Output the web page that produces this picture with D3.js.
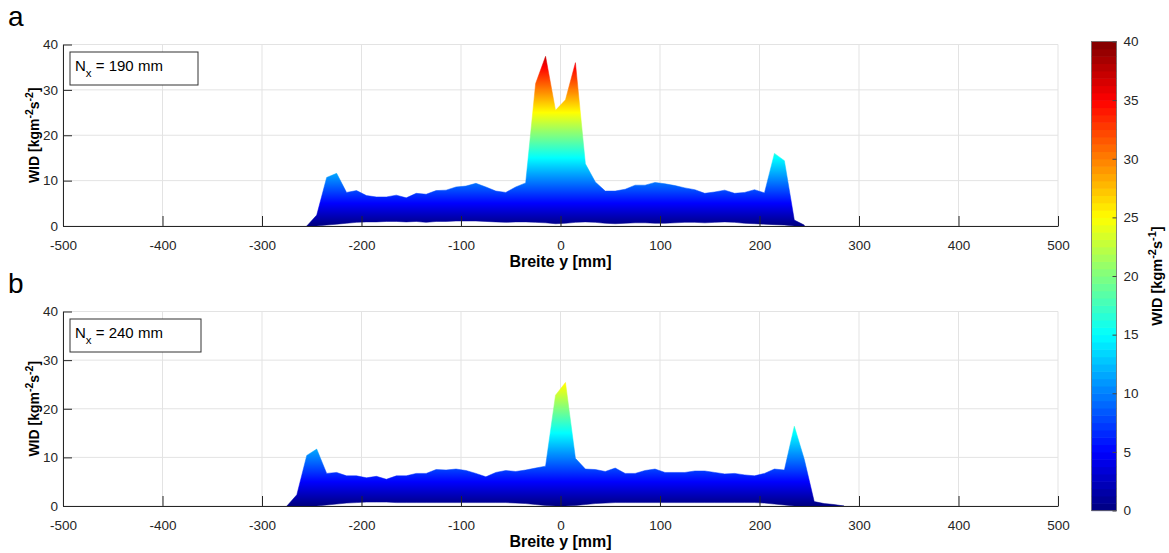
<!DOCTYPE html>
<html><head><meta charset="utf-8">
<script src="https://cdn.jsdelivr.net/npm/d3@7"></script>
<style>body{margin:0;background:#fff;} text{font-family:"Liberation Sans",Arial,sans-serif;}</style>
</head><body><svg id="c" width="1169" height="553"></svg>
<script>
// ---- data ----
const xTicks = [-500,-400,-300,-200,-100,0,100,200,300,400,500];
const yTicks = [0,10,20,30,40];
const cbTicks = [0,5,10,15,20,25,30,35,40];

const xA = [-255,-245,-235,-225,-215,-205,-195,-185,-175,-165,-155,-145,-135,-125,-115,-105,-95,-85,-75,-65,-55,-45,-35,-25,-15,-5,5,15,25,35,45,55,65,75,85,95,105,115,125,135,145,155,165,175,185,195,205,215,225,235,245];
const upperA = [0,2.4,10.7,11.6,7.4,7.8,6.7,6.4,6.4,6.8,6.2,7.2,7.0,7.8,7.9,8.6,8.8,9.4,8.6,7.7,7.4,8.6,9.5,31.4,37.4,25.5,27.8,36.0,13.7,9.7,7.7,7.7,8.1,9.0,9.0,9.6,9.3,8.9,8.4,8.0,7.2,7.5,7.9,7.2,7.4,8.0,7.3,16.0,14.4,1.3,0.2];
const lowerA = [0,0,0.2,0.4,0.6,0.8,0.9,0.9,1.0,1.0,0.9,1.0,0.8,1.0,1.0,1.1,1.1,1.1,1.0,0.9,0.8,0.9,0.9,0.8,0.7,0.5,0.6,0.8,0.9,0.8,0.6,0.5,0.6,0.7,0.7,0.6,0.6,0.7,0.8,0.8,0.7,0.8,0.9,0.8,0.6,0.5,0.4,0.3,0.2,0,0];

const xB = [-275,-265,-255,-245,-235,-225,-215,-205,-195,-185,-175,-165,-155,-145,-135,-125,-115,-105,-95,-85,-75,-65,-55,-45,-35,-25,-15,-5,5,15,25,35,45,55,65,75,85,95,105,115,125,135,145,155,165,175,185,195,205,215,225,235,245,255,265,275,285];
const upperB = [0,2.3,10.4,11.7,6.7,6.9,6.2,6.2,5.8,6.1,5.5,6.2,6.2,6.7,6.7,7.5,7.4,7.6,7.3,6.7,6.0,6.9,7.3,7.1,7.4,7.8,8.2,22.8,25.4,9.8,7.6,7.5,7.1,7.8,6.7,6.7,7.3,7.6,6.9,6.9,6.9,7.2,7.2,6.9,6.6,6.7,6.4,6.2,6.7,7.6,7.4,16.4,9.6,0.9,0.5,0.3,0];
const lowerB = [0,0,0,0,0.2,0.4,0.6,0.7,0.8,0.8,0.8,0.7,0.7,0.7,0.7,0.7,0.7,0.7,0.7,0.7,0.7,0.7,0.7,0.6,0.5,0.3,0.1,0,0,0.1,0.3,0.5,0.6,0.7,0.7,0.7,0.7,0.7,0.7,0.7,0.7,0.7,0.7,0.7,0.7,0.7,0.7,0.7,0.6,0.4,0.2,0,0,0,0,0,0];

const panels = [
  {letter:"a", label:"190", x:xA, up:upperA, lo:lowerA, top:44.5, bottom:226},
  {letter:"b", label:"240", x:xB, up:upperB, lo:lowerB, top:311.5, bottom:506}
];

// ---- jet colormap ----
function jet(t){
  t = Math.max(0, Math.min(1, t));
  const f = (a)=>Math.max(0, Math.min(1, a));
  const r = f(Math.min(4*t-1.5, -4*t+4.5));
  const g = f(Math.min(4*t-0.5, -4*t+3.5));
  const b = f(Math.min(4*t+0.5, -4*t+2.5));
  return d3.rgb(r*255, g*255, b*255).formatHex();
}

const svg = d3.select("#c");
const defs = svg.append("defs");
const L = 63, R = 1058;
const x = d3.scaleLinear().domain([-500,500]).range([L,R]);
const axisCol = "#262626", gridCol = "#e3e3e3";
const fmt = d => String(d);

panels.forEach((p,i)=>{
  const y = d3.scaleLinear().domain([0,40]).range([p.bottom,p.top]);
  const g = svg.append("g");
  // grid
  g.selectAll(".gx").data(xTicks).enter().append("line")
    .attr("x1",d=>x(d)).attr("x2",d=>x(d)).attr("y1",p.top).attr("y2",p.bottom)
    .attr("stroke",gridCol).attr("stroke-width",1);
  g.selectAll(".gy").data(yTicks).enter().append("line")
    .attr("x1",L).attr("x2",R).attr("y1",d=>y(d)).attr("y2",d=>y(d))
    .attr("stroke",gridCol).attr("stroke-width",1);
  // gradient
  const gid = "grad"+i;
  const lg = defs.append("linearGradient").attr("id",gid)
    .attr("gradientUnits","userSpaceOnUse")
    .attr("x1",0).attr("x2",0).attr("y1",y(0)).attr("y2",y(40));
  d3.range(0,65).forEach(k=>{
    lg.append("stop").attr("offset",k/64).attr("stop-color",jet(k/64));
  });
  const data = p.x.map((xv,j)=>({x:xv, u:p.up[j], l:p.lo[j]}));
  const area = d3.area().x(d=>x(d.x)).y0(d=>y(d.l)).y1(d=>y(d.u));
  g.append("path").datum(data).attr("d",area).attr("fill","url(#"+gid+")")
    .attr("stroke","url(#"+gid+")").attr("stroke-width",0.5);
  // axes
  const xa = d3.axisBottom(x).tickValues(xTicks).tickFormat(fmt).tickSizeInner(-10).tickSizeOuter(0).tickPadding(14);
  const xg = g.append("g").attr("transform",`translate(0,${p.bottom})`).call(xa);
  xg.select(".domain").attr("stroke",axisCol);
  xg.selectAll(".tick line").attr("stroke",axisCol);
  xg.selectAll(".tick text").attr("fill",axisCol).attr("font-size",13.5).attr("font-family","Liberation Sans, Arial");
  const ya = d3.axisLeft(y).tickValues(yTicks).tickFormat(fmt).tickSizeInner(-9).tickSizeOuter(0).tickPadding(14);
  const yg = g.append("g").attr("transform",`translate(${L},0)`).call(ya);
  yg.select(".domain").attr("stroke",axisCol);
  yg.selectAll(".tick line").attr("stroke",axisCol);
  yg.selectAll(".tick text").attr("fill",axisCol).attr("font-size",13.5).attr("font-family","Liberation Sans, Arial").attr("dx",9);
  // panel letter
  svg.append("text").attr("x",8).attr("y",p.top-19).attr("font-size",28).attr("fill","#000").text(p.letter);
  // x label
  svg.append("text").attr("x",(L+R)/2 - 0).attr("y",p.bottom+41).attr("text-anchor","middle")
    .attr("font-size",16).attr("font-weight","bold").attr("fill","#000").text("Breite y [mm]");
  // y label
  const yl = svg.append("text").attr("transform",`translate(39,${(p.top+p.bottom)/2}) rotate(-90)`)
    .attr("text-anchor","middle").attr("font-size",14).attr("font-weight","bold").attr("fill","#000");
  yl.append("tspan").text("WID [kgm");
  yl.append("tspan").attr("baseline-shift","super").attr("font-size",10.5).text("-2");
  yl.append("tspan").text("s");
  yl.append("tspan").attr("baseline-shift","super").attr("font-size",10.5).text("-2");
  yl.append("tspan").text("]");
  // annotation box
  const bx = 70, by = p.top + 7.5, bw = 128 + i*3, bh = 33;
  svg.append("rect").attr("x",bx).attr("y",by).attr("width",bw).attr("height",bh)
    .attr("fill","#fff").attr("stroke","#333").attr("stroke-width",1);
  const t = svg.append("text").attr("x",bx+5).attr("y",by+19).attr("font-size",15).attr("fill","#000");
  t.append("tspan").text("N");
  t.append("tspan").attr("baseline-shift","sub").attr("font-size",11.5).text("x");
  t.append("tspan").text(" = "+p.label+" mm");
});

// ---- colorbar ----
const cbX = 1091.5, cbW = 25, cbTop = 41.5, cbBot = 510.5;
const cy = d3.scaleLinear().domain([0,40]).range([cbBot,cbTop]);
const nC = 64;
d3.range(nC).forEach(k=>{
  const v0 = k*40/nC, v1 = (k+1)*40/nC;
  svg.append("rect").attr("x",cbX).attr("y",cy(v1)).attr("width",cbW).attr("height",cy(v0)-cy(v1)+0.6)
    .attr("fill",jet((k+0.5)/nC));
});
svg.append("rect").attr("x",cbX).attr("y",cbTop).attr("width",cbW).attr("height",cbBot-cbTop)
  .attr("fill","none").attr("stroke","#6b6b6b").attr("stroke-width",0.8);
const cba = d3.axisRight(cy).tickValues(cbTicks).tickFormat(fmt).tickSizeInner(-4).tickSizeOuter(0).tickPadding(7);
const cg = svg.append("g").attr("transform",`translate(${cbX+cbW},0)`).call(cba);
cg.select(".domain").remove();
cg.selectAll(".tick line").attr("stroke","#444");
cg.selectAll(".tick text").attr("fill",axisCol).attr("font-size",13.5).attr("font-family","Liberation Sans, Arial");
const cl = svg.append("text").attr("transform",`translate(1162,${(cbTop+cbBot)/2}) rotate(-90)`)
  .attr("text-anchor","middle").attr("font-size",14.5).attr("font-weight","bold").attr("fill","#000");
cl.append("tspan").text("WID [kgm");
cl.append("tspan").attr("baseline-shift","super").attr("font-size",11).text("-2");
cl.append("tspan").text("s");
cl.append("tspan").attr("baseline-shift","super").attr("font-size",11).text("-1");
cl.append("tspan").text("]");
</script></body></html>
